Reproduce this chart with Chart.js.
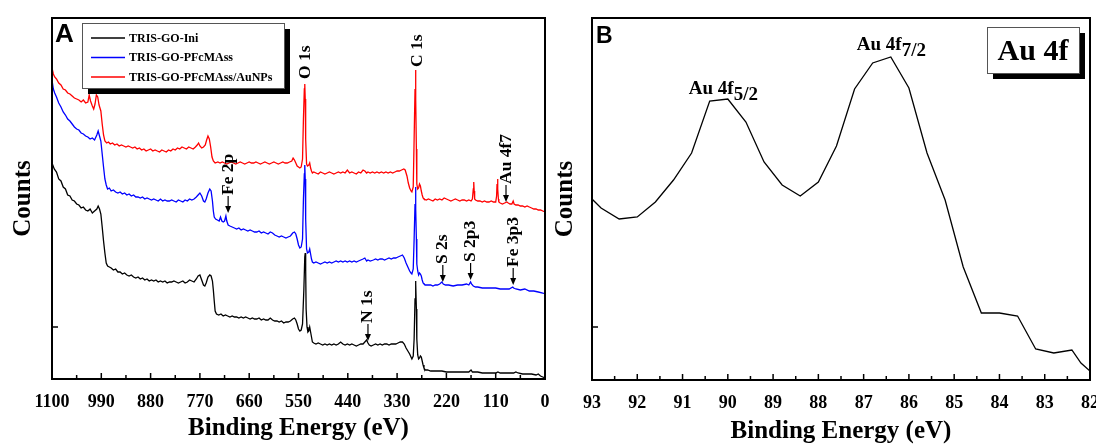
<!DOCTYPE html>
<html>
<head>
<meta charset="utf-8">
<script src="https://cdn.jsdelivr.net/npm/chart.js@4.4.1/dist/chart.umd.min.js"></script>
<style>
  html, body { margin: 0; padding: 0; background: #fff; }
  #wrapA { position: absolute; left: 0; top: 0; width: 560px; height: 444px; }
  #wrapB { position: absolute; left: 548px; top: 0; width: 548px; height: 444px; overflow: hidden; }
</style>
</head>
<body>
<div id="wrapA"><canvas id="chartA"></canvas></div>
<div id="wrapB"><canvas id="chartB"></canvas></div>
<script>
// ---- Panel A: survey spectra (binding energy in eV, counts in arbitrary units) ----
var iniEnergy = [1100,1095,1090,1085,1080,1075,1070,1065,1060,1055,1050,1045,1040,1035,1030,1025,1020,1015,1010,1005,
  1000,997,994,991,988,985,982,979,976,972,968,963,958,953,948,943,938,933,928,923,918,913,908,903,898,893,888,883,878,873,
  868,863,858,853,848,843,838,833,828,823,818,813,808,803,798,793,788,783,778,774,770,766,762,759,756,752,748,745,742,740,
  738,736,733,728,723,718,713,708,703,698,693,688,683,678,673,668,663,658,653,648,643,638,633,628,623,618,613,608,603,598,
  593,588,583,578,573,568,563,559,556,553,550,547,544,541,538,536,535,534,533,531,529,527,525,523,521,519,516,511,506,501,
  496,491,486,481,476,471,466,461,456,451,446,441,436,431,426,421,416,411,406,402,398,395,392,388,383,378,373,368,363,358,
  353,348,343,338,333,328,323,318,314,310,306,302,299,297,294,292,290,289,288,287,286,284,282,280,278,276,274,272,270,267,
  262,255,250,245,240,230,220,210,200,190,180,170,165,162,150,140,130,120,110,105,100,90,80,70,65,60,50,40,30,20,15,10,5,0];
var iniCounts = [216,210,207,200,198,192,190,184,183,179,178,175,174,171,172,169,168,170,166,168,
  170,173,170,165,152,138,126,116,113,112,111,109,110,107,107,105,106,104,103,104,102,101,102,100,101,99,100,98,99,98,
  99,97,98,97,98,96,97,97,98,97,96,97,98,96,97,99,98,97,100,103,104,99,94,93,96,102,104,103,98,89,
  78,68,65,64,65,63,64,63,62,63,62,62,61,62,61,62,61,60,61,60,60,61,59,60,59,59,61,59,58,58,
  57,58,56,57,57,58,60,61,59,55,50,48,49,55,90,122,126,110,70,52,47,48,52,47,42,37,36,35,36,35,
  34,35,34,35,34,35,34,35,37,35,34,35,34,35,34,33,34,35,35,37,39,36,34,33,34,35,34,35,34,35,
  35,34,35,35,35,36,37,37,35,31,28,25,22,20,23,40,80,98,95,70,40,24,20,21,23,22,18,14,11,9,
  9,8,8,8,8,8,7,7,7,7,7,7,9,7,7,6,6,6,6,7,6,6,6,6,7,6,5,5,5,4,5,3,2,1];

var pfcEnergy = [1100,1097,1094,1090,1085,1080,1075,1070,1065,1060,1055,1050,1045,1040,1035,1030,1025,1020,1015,1010,
  1005,1000,997,994,991,988,985,982,979,976,972,968,963,958,953,948,943,938,933,928,923,918,913,908,903,898,893,888,883,878,
  873,868,863,858,853,848,843,838,833,828,823,818,813,808,803,798,793,788,783,778,774,770,766,762,759,756,752,748,745,742,
  740,738,735,731,727,724,721,718,715,712,710,707,703,698,693,688,683,678,673,668,663,658,653,648,643,638,633,628,623,618,
  613,608,603,598,593,588,583,578,573,568,563,559,556,553,550,547,544,541,539,537,536,535,534,532,530,527,525,523,521,519,
  516,511,506,501,496,491,486,481,476,471,466,461,456,451,446,441,436,431,426,421,416,411,406,402,398,395,390,383,378,373,
  368,363,358,353,348,343,338,333,328,323,318,314,310,306,302,299,297,294,292,290,289,288,287,286,284,282,280,278,276,274,
  272,270,267,262,255,250,245,240,235,230,227,222,215,205,195,185,175,170,166,164,160,155,150,140,130,120,110,100,90,80,
  72,70,65,55,45,35,25,15,5,0];
var pfcCounts = [299,290,286,282,276,272,267,264,260,258,255,252,250,249,246,245,243,242,240,241,
  239,244,248,243,238,225,212,200,194,190,191,188,189,187,186,187,185,186,184,185,183,184,182,182,181,182,180,181,180,179,
  180,179,178,180,178,179,178,178,179,178,177,179,178,177,179,178,180,179,180,182,184,186,183,178,177,180,186,190,188,178,
  168,162,160,159,158,162,158,157,158,163,158,154,153,152,151,150,151,149,150,149,148,149,148,147,147,148,146,147,146,145,
  147,146,144,143,142,143,142,141,142,143,146,147,145,140,134,131,132,140,180,205,214,200,160,130,126,127,130,125,120,117,
  116,117,116,115,116,117,116,117,116,117,118,117,118,117,118,117,118,117,118,117,118,119,120,121,118,119,118,119,120,119,
  120,120,119,120,121,120,121,121,122,123,124,121,116,112,108,106,105,110,140,175,192,170,140,115,108,104,106,105,103,99,
  96,95,94,94,94,93,94,94,95,97,95,94,94,93,94,94,95,94,97,95,93,92,92,91,91,91,91,90,90,90,
  92,91,90,89,90,88,88,87,86,85];

var auEnergy = [1100,1097,1094,1090,1085,1080,1075,1070,1065,1060,1055,1050,1045,1040,1035,1030,1025,1020,1017,1014,
  1010,1007,1004,1001,998,995,991,988,985,982,978,974,970,965,960,955,950,945,940,935,930,925,920,915,910,905,900,895,890,885,
  880,875,870,865,860,855,850,845,840,835,830,825,820,815,810,805,800,795,790,785,780,776,773,770,766,762,758,755,752,749,
  746,743,740,736,730,725,720,715,710,705,700,695,690,685,680,675,670,665,660,655,650,645,640,635,630,625,620,615,610,605,
  600,595,590,585,580,575,570,565,562,559,556,553,550,547,544,541,539,537,536,535,534,532,530,527,525,523,521,519,516,511,
  506,501,496,491,486,481,476,471,466,461,456,451,446,441,436,431,426,421,416,411,406,402,398,395,390,385,380,375,370,365,
  360,355,350,345,340,335,330,325,320,315,312,308,305,302,299,297,294,292,290,289,288,287,286,284,282,280,278,276,274,272,
  270,265,260,255,250,245,240,235,230,225,220,215,210,205,200,195,190,185,180,175,170,165,162,160,159,158,157,155,150,145,
  140,135,130,125,120,115,110,108,107,106,105,104,103,100,95,90,85,82,78,74,71,69,65,60,55,50,45,40,35,30,
  25,20,15,10,5,0];
var auCounts = [311,305,302,300,296,294,290,289,286,285,283,281,280,279,277,279,276,277,284,278,
  273,270,275,284,282,274,268,255,244,238,236,237,235,236,234,235,233,234,233,232,233,232,231,232,230,231,229,230,228,229,
  230,228,229,228,227,229,228,227,229,228,230,229,231,230,232,231,230,232,231,230,232,234,236,233,231,232,234,239,243,240,
  232,222,218,216,217,216,217,216,215,216,217,216,215,216,217,216,215,216,217,216,216,217,216,215,216,217,216,215,216,217,
  216,215,216,217,216,216,217,218,221,219,216,213,212,211,212,220,260,290,295,280,240,215,213,214,216,211,208,206,207,206,
  205,207,206,205,206,207,206,205,206,207,206,207,206,209,206,207,206,205,207,206,209,208,206,207,206,207,206,207,206,207,
  206,207,206,207,206,207,208,208,209,210,209,203,196,191,188,187,192,240,290,309,280,230,195,190,191,195,193,188,184,181,
  180,179,180,179,178,180,179,180,179,181,180,179,178,179,180,179,178,179,179,178,179,178,180,190,197,188,180,179,178,178,
  177,178,177,177,178,177,177,183,195,200,190,180,177,176,175,176,177,176,175,175,178,175,174,174,173,173,172,173,172,171,
  170,170,169,169,168,167];

var surveyLabels = ['TRIS-GO-Ini', 'TRIS-GO-PFcMAss', 'TRIS-GO-PFcMAss/AuNPs'];
var surveyColors = ['#000000', '#0000ff', '#ff0000'];
var surveyTicks = [1100, 990, 880, 770, 660, 550, 440, 330, 220, 110, 0];

// peak names: energy of the mark, counts level of the arrow tip, arrow length
var surveyPeaks = [
  { text: 'O 1s', at: 535.5, level: 299, arrow: 0 },
  { text: 'C 1s', at: 285.5, level: 311, arrow: 0 },
  { text: 'Fe 2p', at: 707, level: 166, arrow: 17 },
  { text: 'N 1s', at: 395, level: 38, arrow: 17 },
  { text: 'S 2s', at: 228, level: 97, arrow: 17 },
  { text: 'S 2p3', at: 166, level: 99, arrow: 17 },
  { text: 'Fe 3p3', at: 71, level: 94, arrow: 17 },
  { text: 'Au 4f7', at: 87, level: 177, arrow: 17 }
];

// ---- Panel B: Au 4f high resolution ----
var au4fEnergy = [93.0,92.8,92.4,92.0,91.6,91.2,90.8,90.4,90.0,89.6,89.2,88.8,88.4,88.0,87.6,87.2,86.8,86.4,86.0,85.6,
  85.2,84.8,84.4,84.0,83.6,83.2,82.8,82.4,82.2,82.0];
var au4fCounts = [181,172,161,163,178,200,227,279,281,258,218,195,184,198,234,291,317,323,292,227,
  180,113,67,67,64,31,27,30,17,9];
var au4fTicks = [93, 92, 91, 90, 89, 88, 87, 86, 85, 84, 83, 82];
var au4fPeaks = [
  { main: 'Au 4f', sub: '5/2', at: 90.0, level: 281, dx: -39, dy: -5 },
  { main: 'Au 4f', sub: '7/2', at: 86.4, level: 323, dx: -34, dy: -7 }
];

var SERIF = '"Liberation Serif", "Times New Roman", serif';
var SANS = '"Liberation Sans", Arial, sans-serif';

function pairs(xs, ys) {
  return xs.map(function (x, i) { return { x: x, y: ys[i] }; });
}

// frame all round + inward tick marks
function drawFrame(chart, yMarks) {
  var ctx = chart.ctx, area = chart.chartArea, xs = chart.scales.x, ys = chart.scales.y;
  ctx.save();
  ctx.strokeStyle = '#000';
  ctx.lineWidth = 2;
  ctx.strokeRect(area.left, area.top, area.right - area.left, area.bottom - area.top);
  ctx.lineWidth = 1.5;
  xs.ticks.forEach(function (t) {
    var px = xs.getPixelForValue(t.value);
    var len = t.label !== '' ? 6 : 4;
    ctx.beginPath();
    ctx.moveTo(px, area.bottom);
    ctx.lineTo(px, area.bottom - len);
    ctx.stroke();
  });
  yMarks.forEach(function (v) {
    var py = ys.getPixelForValue(v);
    ctx.beginPath();
    ctx.moveTo(area.left, py);
    ctx.lineTo(area.left + 6, py);
    ctx.stroke();
  });
  ctx.restore();
}

function boxWithShadow(ctx, x, y, w, h, shift) {
  ctx.fillStyle = '#000';
  ctx.fillRect(x + shift, y + shift, w, h);
  ctx.fillStyle = '#fff';
  ctx.fillRect(x, y, w, h);
  ctx.strokeStyle = '#555';
  ctx.lineWidth = 1;
  ctx.strokeRect(x + 0.5, y + 0.5, w, h);
}

var surveyDecor = {
  id: 'surveyDecor',
  afterDraw: function (chart) {
    var ctx = chart.ctx, xs = chart.scales.x, ys = chart.scales.y;
    drawFrame(chart, [52]);
    ctx.save();
    // peak names, written upward, with arrow pointing down to the peak
    ctx.fillStyle = '#000';
    ctx.strokeStyle = '#000';
    ctx.lineWidth = 1.2;
    ctx.font = 'bold 17.5px ' + SERIF;
    surveyPeaks.forEach(function (p) {
      ctx.save();
      ctx.translate(xs.getPixelForValue(p.at), ys.getPixelForValue(p.level));
      ctx.rotate(-Math.PI / 2);
      if (p.arrow > 0) {
        ctx.beginPath();
        ctx.moveTo(4, 0);
        ctx.lineTo(p.arrow, 0);
        ctx.stroke();
        ctx.beginPath();
        ctx.moveTo(0, 0);
        ctx.lineTo(7, -3);
        ctx.lineTo(7, 3);
        ctx.closePath();
        ctx.fill();
      }
      ctx.textAlign = 'left';
      ctx.textBaseline = 'middle';
      ctx.fillText(p.text, p.arrow + 1, 0);
      ctx.restore();
    });
    // legend box
    boxWithShadow(ctx, 82, 23, 202, 65, 6);
    ctx.font = 'bold 12px ' + SERIF;
    ctx.textAlign = 'left';
    ctx.textBaseline = 'middle';
    chart.data.datasets.forEach(function (ds, i) {
      var ly = 38 + i * 19.5;
      ctx.strokeStyle = ds.borderColor;
      ctx.lineWidth = 1.5;
      ctx.beginPath();
      ctx.moveTo(91, ly);
      ctx.lineTo(125, ly);
      ctx.stroke();
      ctx.fillStyle = '#000';
      ctx.fillText(ds.label, 129, ly + 0.5);
    });
    // panel letter
    ctx.fillStyle = '#000';
    ctx.font = 'bold 26px ' + SANS;
    ctx.textBaseline = 'alphabetic';
    ctx.fillText('A', 55, 42);
    ctx.restore();
  }
};

var au4fDecor = {
  id: 'au4fDecor',
  afterDraw: function (chart) {
    var ctx = chart.ctx, xs = chart.scales.x, ys = chart.scales.y, area = chart.chartArea;
    drawFrame(chart, [53]);
    ctx.save();
    ctx.fillStyle = '#000';
    ctx.textAlign = 'left';
    ctx.textBaseline = 'alphabetic';
    au4fPeaks.forEach(function (p) {
      var px = xs.getPixelForValue(p.at) + p.dx;
      var py = ys.getPixelForValue(p.level) + p.dy;
      ctx.font = 'bold 19px ' + SERIF;
      ctx.fillText(p.main, px, py);
      var w = ctx.measureText(p.main).width;
      ctx.fillText(p.sub, px + w, py + 5.5);
    });
    // element box in the top right corner
    boxWithShadow(ctx, area.right - 103, 27, 92, 46, 6);
    ctx.fillStyle = '#000';
    ctx.font = 'bold 30px ' + SERIF;
    ctx.textAlign = 'center';
    ctx.fillText('Au 4f', area.right - 57, 60);
    // panel letter
    ctx.textAlign = 'left';
    ctx.font = 'bold 23px ' + SANS;
    ctx.fillText('B', area.left + 4, 43);
    ctx.restore();
  }
};

function axisFont(size) {
  return { family: SERIF, size: size, weight: 'bold' };
}

function makeOptions(cfg) {
  return {
    responsive: true,
    maintainAspectRatio: false,
    animation: false,
    devicePixelRatio: 1,
    layout: { padding: { left: 0, right: cfg.padRight, top: 18, bottom: 0 } },
    plugins: { legend: { display: false }, tooltip: { enabled: false } },
    elements: { point: { radius: 0 }, line: { tension: 0 } },
    scales: {
      x: {
        type: 'linear',
        reverse: true,
        min: cfg.xMin,
        max: cfg.xMax,
        grid: { display: false },
        border: { display: false },
        afterBuildTicks: function (s) {
          var list = [];
          for (var v = cfg.xMin; v <= cfg.xMax + 1e-9; v += cfg.minorStep) {
            list.push({ value: Math.round(v * 100) / 100 });
          }
          s.ticks = list;
        },
        ticks: {
          autoSkip: false,
          maxRotation: 0,
          padding: 5,
          color: '#000',
          font: axisFont(18),
          callback: function (v) {
            return cfg.labels.indexOf(v) >= 0 ? String(v) : '';
          }
        },
        title: {
          display: true,
          text: 'Binding Energy (eV)',
          color: '#000',
          font: axisFont(25),
          padding: { top: 0, bottom: cfg.titleBottom }
        },
        afterFit: function (s) {
          s.height = cfg.xHeight;
          s.paddingLeft = 0;
          s.paddingRight = 0;
        }
      },
      y: {
        min: 0,
        max: cfg.yMax,
        grid: { display: false },
        border: { display: false },
        ticks: { display: false },
        title: {
          display: true,
          text: 'Counts',
          color: '#000',
          font: axisFont(25),
          padding: { top: cfg.countsPad, bottom: 0 }
        },
        afterFit: function (s) {
          s.width = cfg.yWidth;
        }
      }
    }
  };
}

Chart.defaults.font.family = SERIF;

var surveySets = [pairs(iniEnergy, iniCounts), pairs(pfcEnergy, pfcCounts), pairs(auEnergy, auCounts)];

new Chart(document.getElementById('chartA'), {
  type: 'line',
  data: {
    datasets: surveySets.map(function (pts, i) {
      return {
        label: surveyLabels[i],
        data: pts,
        borderColor: surveyColors[i],
        borderWidth: 1.3,
        fill: false,
        order: 3 - i
      };
    })
  },
  options: makeOptions({
    padRight: 15, xMin: 0, xMax: 1100, minorStep: 55, labels: surveyTicks,
    xHeight: 65, titleBottom: 0.5, yMax: 361, yWidth: 52, countsPad: 8.5
  }),
  plugins: [surveyDecor]
});

new Chart(document.getElementById('chartB'), {
  type: 'line',
  data: {
    datasets: [{
      label: 'Au 4f',
      data: pairs(au4fEnergy, au4fCounts),
      borderColor: '#000',
      borderWidth: 1.3,
      fill: false
    }]
  },
  options: makeOptions({
    padRight: 6, xMin: 82, xMax: 93, minorStep: 0.5, labels: au4fTicks,
    xHeight: 64, titleBottom: -3, yMax: 362, yWidth: 44, countsPad: 2.5
  }),
  plugins: [au4fDecor]
});
</script>
</body>
</html>
